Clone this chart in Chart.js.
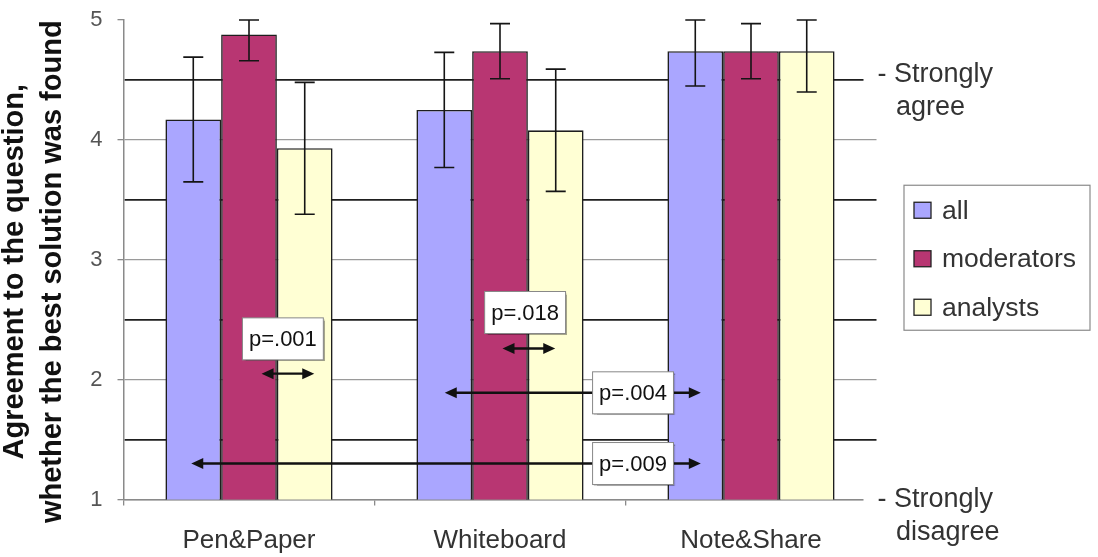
<!DOCTYPE html>
<html>
<head>
<meta charset="utf-8">
<script src="https://cdn.jsdelivr.net/npm/chart.js@4.4.1/dist/chart.umd.min.js"></script>
<style>
  html, body { margin: 0; padding: 0; background: #fff; }
  #wrap { width: 1098px; height: 557px; position: relative; }
</style>
</head>
<body>
<div id="wrap"><canvas id="agreeChart"></canvas></div>
<script>
// categories + series (mean agreement, 1..5 scale)
const methods = ['Pen&Paper', 'Whiteboard', 'Note&Share'];
const groupNames = ['all', 'moderators', 'analysts'];
const allMean = [4.17, 4.25, 4.74];
const moderatorsMean = [4.88, 4.74, 4.74];
const analystsMean = [3.93, 4.08, 4.74];

// error bar half lengths
const allErr = [0.52, 0.48, 0.29];
const moderatorsErr = [0.22, 0.23, 0.23];
const analystsErr = [0.55, 0.51, 0.34];

// y tick labels (grid runs every 0.5, labels on whole numbers)
const yTickLabels = [1, 2, 3, 4, 5];

// scale end captions on the right, at their scale value
const endCaptions = [['- Strongly', 'agree'], ['- Strongly', 'disagree']];
const endValues = [4.5, 1];

// significance arrows, x in category units (0 = Pen&Paper ... 2 = Note&Share)
const pLabels = ['p=.001', 'p=.018', 'p=.004', 'p=.009'];
const pFrom = [0.05, 1.01, 0.78, -0.23];
const pTo = [0.26, 1.22, 1.80, 1.80];
const pLevel = [2.05, 2.26, 1.89, 1.30];
const pLabelX = [0.135, 1.10, 1.53, 1.53];
const pLabelY = [2.34, 2.56, 1.89, 1.30];

const yTitle = ['Agreement to the question,', 'whether the best solution was found'];

const FONT = "'Liberation Sans', Arial, sans-serif";
Chart.defaults.font.family = FONT;

function isWhole(v) {
  return Math.abs(v - Math.round(v)) < 1e-6;
}

// error bars on top of each bar
const errorBarPlugin = {
  id: 'errorBars',
  afterDatasetsDraw(chart) {
    const { ctx, chartArea, scales: { y } } = chart;
    ctx.save();
    ctx.strokeStyle = '#151515';
    ctx.lineWidth = 1.6;
    chart.data.datasets.forEach((ds, i) => {
      const meta = chart.getDatasetMeta(i);
      meta.data.forEach((bar, j) => {
        const v = ds.data[j], e = ds.errors[j];
        const top = Math.max(y.getPixelForValue(v + e), chartArea.top);
        const bot = y.getPixelForValue(v - e);
        ctx.beginPath();
        ctx.moveTo(bar.x, top); ctx.lineTo(bar.x, bot);
        ctx.moveTo(bar.x - 10, top); ctx.lineTo(bar.x + 10, top);
        ctx.moveTo(bar.x - 10, bot); ctx.lineTo(bar.x + 10, bot);
        ctx.stroke();
      });
    });
    ctx.restore();
  }
};

function arrowHead(ctx, x, y, dir) {
  ctx.beginPath();
  ctx.moveTo(x, y);
  ctx.lineTo(x - dir * 12, y - 5.5);
  ctx.lineTo(x - dir * 12, y + 5.5);
  ctx.closePath();
  ctx.fill();
}

// double arrows + p-value boxes
const significancePlugin = {
  id: 'significance',
  afterDatasetsDraw(chart) {
    const { ctx, scales: { x, y } } = chart;
    ctx.save();
    ctx.strokeStyle = '#111';
    ctx.fillStyle = '#111';
    ctx.lineWidth = 2.4;
    pLabels.forEach((lbl, k) => {
      const x1 = x.getPixelForValue(pFrom[k]);
      const x2 = x.getPixelForValue(pTo[k]);
      const yy = y.getPixelForValue(pLevel[k]);
      ctx.beginPath();
      ctx.moveTo(x1 + 6, yy); ctx.lineTo(x2 - 6, yy);
      ctx.stroke();
      arrowHead(ctx, x1, yy, -1);
      arrowHead(ctx, x2, yy, 1);
    });
    ctx.font = '22px ' + FONT;
    ctx.textAlign = 'center';
    ctx.textBaseline = 'middle';
    pLabels.forEach((lbl, k) => {
      const cx = x.getPixelForValue(pLabelX[k]);
      const cy = y.getPixelForValue(pLabelY[k]);
      const w = ctx.measureText(lbl).width + 13;
      const h = 42;
      ctx.save();
      ctx.shadowColor = 'rgba(0,0,0,0.35)';
      ctx.shadowOffsetX = 1.5;
      ctx.shadowOffsetY = 1.5;
      ctx.shadowBlur = 1;
      ctx.fillStyle = '#fff';
      ctx.fillRect(cx - w / 2, cy - h / 2, w, h);
      ctx.restore();
      ctx.strokeStyle = '#888';
      ctx.lineWidth = 1;
      ctx.strokeRect(cx - w / 2, cy - h / 2, w, h);
      ctx.fillStyle = '#111';
      ctx.fillText(lbl, cx, cy + 1);
    });
    ctx.restore();
  }
};

// rotated two line axis title, legend box, right captions
const decorPlugin = {
  id: 'decor',
  afterDraw(chart) {
    const { ctx, chartArea, scales: { y } } = chart;
    ctx.save();

    // y title
    ctx.fillStyle = '#111';
    ctx.font = 'bold 29px ' + FONT;
    ctx.textAlign = 'center';
    ctx.textBaseline = 'middle';
    yTitle.forEach((line, i) => {
      ctx.save();
      ctx.translate(15 + i * 38, (chartArea.top + chartArea.bottom) / 2 + 12);
      ctx.rotate(-Math.PI / 2);
      ctx.fillText(line, 0, 0);
      ctx.restore();
    });

    // scale end captions
    ctx.font = '27px ' + FONT;
    ctx.textAlign = 'left';
    const dashW = ctx.measureText('- ').width;
    endCaptions.forEach((lines, i) => {
      const yy = y.getPixelForValue(endValues[i]) - (i === 0 ? 5 : 0);
      const x0 = chartArea.right + 1;
      ctx.fillStyle = '#fff';
      ctx.fillRect(chartArea.right - 13, yy - 16, 150, 68);
      ctx.fillStyle = '#333';
      ctx.fillText(lines[0], x0, yy);
      ctx.fillText(lines[1], x0 + dashW + 2, yy + 33);
    });

    // legend
    const bx = chartArea.right + 27.5, bw = 186, bh = 145;
    const by = (chartArea.top + chartArea.bottom) / 2 - bh / 2 - 2;
    ctx.strokeStyle = '#8a8a8a';
    ctx.lineWidth = 1.2;
    ctx.strokeRect(bx, by, bw, bh);
    ctx.font = '26.5px ' + FONT;
    ctx.textBaseline = 'middle';
    chart.data.datasets.forEach((ds, i) => {
      const cy = by + 25 + i * 48.5;
      ctx.fillStyle = ds.backgroundColor;
      ctx.fillRect(bx + 10, cy - 8, 17, 16);
      ctx.strokeStyle = '#222';
      ctx.lineWidth = 1.3;
      ctx.strokeRect(bx + 10, cy - 8, 17, 16);
      ctx.fillStyle = '#333';
      ctx.fillText(ds.label, bx + 38, cy + 1);
    });
    ctx.restore();
  }
};

const barStyle = { borderColor: '#1e1e1e', borderWidth: 1.6, borderSkipped: 'start' };

new Chart(document.getElementById('agreeChart'), {
  type: 'bar',
  data: {
    labels: methods,
    datasets: [
      { label: groupNames[0], data: allMean, errors: allErr, backgroundColor: '#aaa6ff', ...barStyle },
      { label: groupNames[1], data: moderatorsMean, errors: moderatorsErr, backgroundColor: '#b83672', ...barStyle },
      { label: groupNames[2], data: analystsMean, errors: analystsErr, backgroundColor: '#ffffd4', ...barStyle }
    ]
  },
  options: {
    responsive: true,
    maintainAspectRatio: false,
    animation: false,
    layout: { padding: { top: 20, right: 221.5, bottom: 0, left: 0 } },
    datasets: { bar: { categoryPercentage: 0.666, barPercentage: 1 } },
    plugins: {
      legend: { display: false },
      tooltip: { enabled: false }
    },
    scales: {
      x: {
        afterFit: s => { s.height = 57.5; },
        border: { color: '#8a8a8a', width: 1.5 },
        grid: { drawOnChartArea: false, drawTicks: true, tickLength: 6, color: '#8a8a8a', lineWidth: 1.3 },
        ticks: { color: '#333', font: { size: 26 }, padding: 20 }
      },
      y: {
        min: 1,
        max: 5,
        afterFit: s => {
          s.width = 123.5;
          s.paddingTop = 0;
          s.paddingBottom = 0;
        },
        border: { color: '#8a8a8a', width: 1.5 },
        grid: {
          color: c => {
            const v = c.tick.value;
            if (v === 5) return 'rgba(0,0,0,0)';
            return isWhole(v) ? '#9a9a9a' : '#1e1e1e';
          },
          lineWidth: c => isWhole(c.tick.value) ? 1.3 : 1.8,
          tickColor: c => isWhole(c.tick.value) ? '#8a8a8a' : 'rgba(0,0,0,0)',
          tickLength: 6
        },
        ticks: {
          stepSize: 0.5,
          padding: 15,
          color: '#555',
          font: { size: 22 },
          callback: v => yTickLabels.includes(v) ? String(v) : ''
        }
      }
    }
  },
  plugins: [errorBarPlugin, significancePlugin, decorPlugin]
});
</script>
</body>
</html>
